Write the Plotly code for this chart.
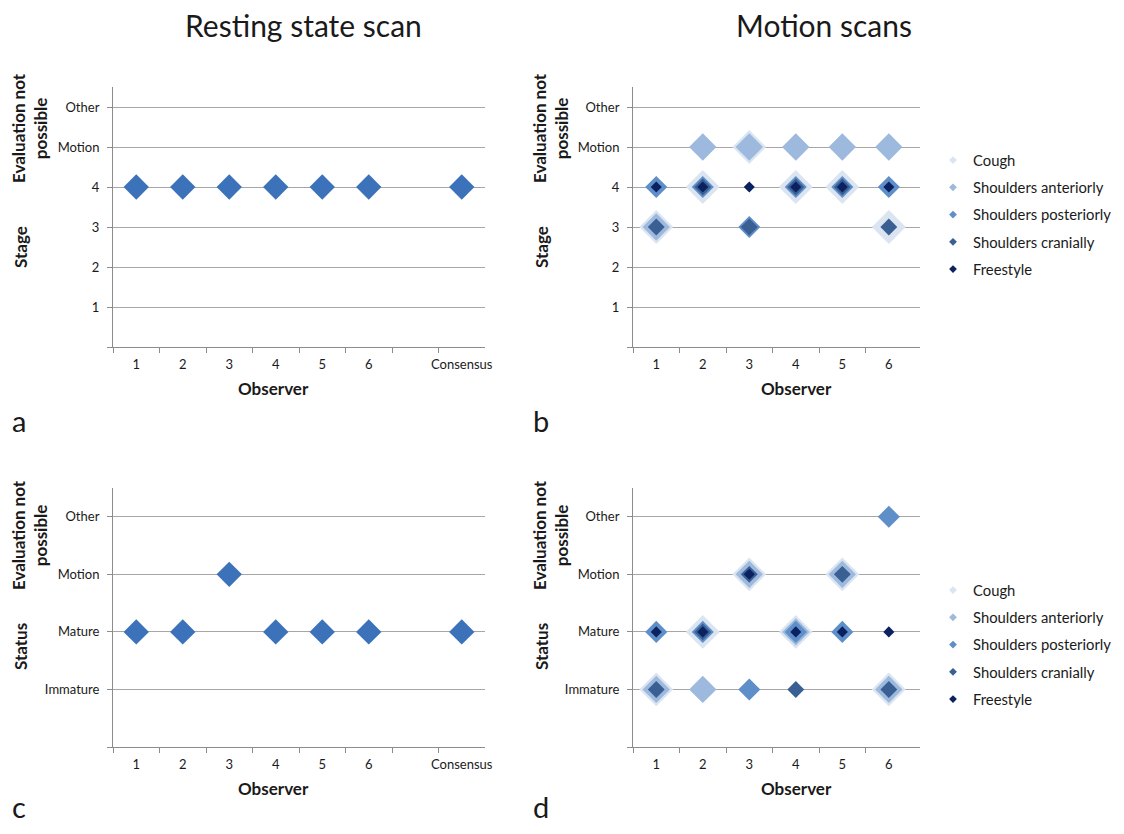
import plotly.graph_objects as go

# page body has an 8px margin on every side: keep the figure inside the window
OFF = 8
W, H = 1124 - 2 * OFF, 834 - 2 * OFF
def px(x): return (x - OFF) / W
def py(y): return 1 - (y - OFF) / H

FONT = "Lato"
TXT = "#1a1a1a"
GRID = "#a6a6a6"
AXC = "#8c8c8c"

# ---- data ----
rest_x_labels = ["1", "2", "3", "4", "5", "6", "", "Consensus"]
motion_x_labels = ["1", "2", "3", "4", "5", "6"]
stage_ticks = ["", "1", "2", "3", "4", "Motion", "Other"]
status_ticks = ["", "Immature", "Mature", "Motion", "Other"]

# panel a: stage (Motion=5, Other=6)
rest_stage_x = [1, 2, 3, 4, 5, 6, 8]
rest_stage_y = [4, 4, 4, 4, 4, 4, 4]
# panel c: status (Immature=1, Mature=2, Motion=3, Other=4)
rest_status_x = [1, 2, 3, 4, 5, 6, 8]
rest_status_y = [2, 2, 3, 2, 2, 2, 2]

scans = ["Cough", "Shoulders anteriorly", "Shoulders posteriorly", "Shoulders cranially", "Freestyle"]
scan_colors = ["#dbe5f1", "#9db9dd", "#5f8fc9", "#3a5f92", "#0b2160"]
scan_sizes = [26, 21, 17, 13, 8.5]
observers = [1, 2, 3, 4, 5, 6]

# panel b: stage per scan for observers 1..6
motion_stage = {
    "Cough":                 [3, 4, 5, 4, 4, 3],
    "Shoulders anteriorly":  [3, 5, 5, 5, 5, 5],
    "Shoulders posteriorly": [4, 4, 3, 4, 4, 4],
    "Shoulders cranially":   [3, 4, 3, 4, 4, 3],
    "Freestyle":             [4, 4, 4, 4, 4, 4],
}
# panel d: status per scan for observers 1..6
motion_status = {
    "Cough":                 [1, 2, 3, 2, 3, 1],
    "Shoulders anteriorly":  [1, 1, 3, 2, 3, 1],
    "Shoulders posteriorly": [2, 2, 1, 2, 2, 4],
    "Shoulders cranially":   [1, 2, 3, 1, 3, 1],
    "Freestyle":             [2, 2, 3, 2, 2, 2],
}

REST_COLOR = "#3b72b9"

fig = go.Figure()

# panel a
fig.add_trace(go.Scatter(x=rest_stage_x, y=rest_stage_y, mode="markers", xaxis="x", yaxis="y",
                         marker=dict(symbol="diamond", size=19.5, color=REST_COLOR), showlegend=False))
# panel c
fig.add_trace(go.Scatter(x=rest_status_x, y=rest_status_y, mode="markers", xaxis="x3", yaxis="y3",
                         marker=dict(symbol="diamond", size=19.5, color=REST_COLOR), showlegend=False))

for i, s in enumerate(scans):
    fig.add_trace(go.Scatter(x=observers, y=motion_stage[s], mode="markers", xaxis="x2", yaxis="y2",
                             marker=dict(symbol="diamond", size=scan_sizes[i], color=scan_colors[i]),
                             showlegend=False, name=s))
    fig.add_trace(go.Scatter(x=observers, y=motion_status[s], mode="markers", xaxis="x4", yaxis="y4",
                             marker=dict(symbol="diamond", size=scan_sizes[i], color=scan_colors[i]),
                             showlegend=False, name=s))
# legend keys
for i, s in enumerate(scans):
    for lg in ["legend", "legend2"]:
        fig.add_trace(go.Scatter(x=[None], y=[None], mode="markers", xaxis="x2", yaxis="y2",
                                 marker=dict(symbol="diamond", size=6, color=scan_colors[i]),
                                 name=s, legend=lg, legendgroup=lg + s, showlegend=True))

def xaxis(domain, n, labels, rng):
    return dict(domain=domain, range=rng, tickmode="array", tickvals=list(range(1, n + 1)),
                ticktext=labels, ticks="outside", ticklen=5, tickcolor="rgba(0,0,0,0)",
                showgrid=False, zeroline=False, showline=True, linecolor=AXC, linewidth=1,
                tickfont=dict(family=FONT, size=13, color=TXT),
                minor=dict(tickmode="array", tickvals=[k + 0.5 for k in range(0, n)],
                           ticks="outside", ticklen=5, tickcolor=AXC, showgrid=False))

def yaxis(domain, labels, rng, anchor):
    return dict(domain=domain, range=rng, tickmode="array", tickvals=list(range(len(labels))),
                ticktext=labels, ticks="outside", ticklen=5, tickcolor=AXC,
                showgrid=True, gridcolor=GRID, gridwidth=1, zeroline=False,
                showline=True, linecolor=AXC, linewidth=1, anchor=anchor,
                ticklabelstandoff=5,
                tickfont=dict(family=FONT, size=13, color=TXT))

xa_dom = [px(113), px(485)]
xb_dom = [px(633), px(920)]
ytop_dom = [py(347), py(87)]
ybot_dom = [py(747), py(488)]

LEG_FONT = dict(family=FONT, size=14.8, color=TXT)
fig.update_layout(
    width=W, height=H, margin=dict(l=0, r=0, t=0, b=0, autoexpand=False),
    paper_bgcolor="white", plot_bgcolor="white",
    font=dict(family=FONT, color=TXT),
    xaxis=dict(xaxis(xa_dom, 8, rest_x_labels, [0.5, 8.5]), anchor="y"),
    yaxis=yaxis(ytop_dom, stage_ticks, [0, 6.5], "x"),
    xaxis2=dict(xaxis(xb_dom, 6, motion_x_labels, [0.5, 6.67]), anchor="y2"),
    yaxis2=yaxis(ytop_dom, stage_ticks, [0, 6.5], "x2"),
    xaxis3=dict(xaxis(xa_dom, 8, rest_x_labels, [0.5, 8.5]), anchor="y3"),
    yaxis3=yaxis(ybot_dom, status_ticks, [0, 4.5], "x3"),
    xaxis4=dict(xaxis(xb_dom, 6, motion_x_labels, [0.5, 6.67]), anchor="y4"),
    yaxis4=yaxis(ybot_dom, status_ticks, [0, 4.5], "x4"),
    legend=dict(x=px(933), y=py(144), xanchor="left", yanchor="top", traceorder="grouped",
                tracegroupgap=5, font=LEG_FONT, bgcolor="rgba(0,0,0,0)", itemsizing="trace"),
    legend2=dict(x=px(933), y=py(574), xanchor="left", yanchor="top", traceorder="grouped",
                 tracegroupgap=5, font=LEG_FONT, bgcolor="rgba(0,0,0,0)", itemsizing="trace"),
)

def ann(text, x, y, size, bold=False, angle=0, xanchor="center"):
    fig.add_annotation(text=f"<b>{text}</b>" if bold else text, x=px(x), y=py(y),
                       xref="paper", yref="paper", showarrow=False, textangle=angle,
                       xanchor=xanchor, yanchor="middle",
                       font=dict(family=FONT, size=size, color=TXT))

ann("Resting state scan", 303, 25, 30)
ann("Motion scans", 824, 25, 30)
for t, x, y in [("a", 19, 420), ("b", 541, 420), ("c", 19, 806), ("d", 541, 806)]:
    ann(t, x, y, 29)
for x, y in [(273, 388), (796, 388), (273, 788), (796, 788)]:
    ann("Observer", x, y, 17, bold=True)
for x0 in [0, 521]:
    ann("Evaluation not<br>possible", x0 + 29, 128, 17, bold=True, angle=-90)
    ann("Stage", x0 + 20, 247, 17, bold=True, angle=-90)
    ann("Evaluation not<br>possible", x0 + 29, 535, 17, bold=True, angle=-90)
    ann("Status", x0 + 20, 647, 17, bold=True, angle=-90)

fig.write_html("out.html")
